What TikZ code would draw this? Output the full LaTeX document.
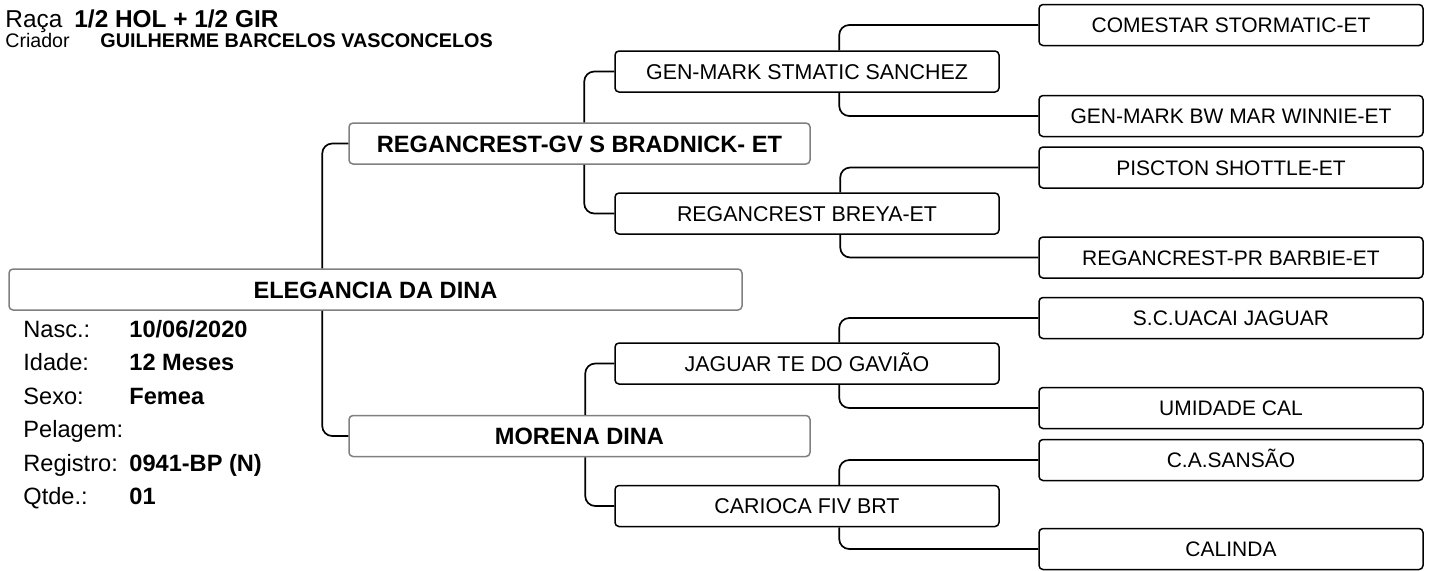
\documentclass[tikz,border=0pt]{standalone}
\usepackage{fontspec}
\setmainfont{Liberation Sans}
\usetikzlibrary{calc}
\tikzstyle{link}=[line width=0.85pt,rounded corners=5pt]
\tikzstyle{parentbox}=[draw=gray,line width=0.75pt,rounded corners=2pt,fill=white,inner sep=0pt,minimum height=20.5pt,text height=8.5pt,text depth=0pt,font=\fontsize{11.8}{14}\selectfont\bfseries]
\tikzstyle{animal}=[draw=black,line width=0.75pt,rounded corners=2pt,fill=white,inner sep=0pt,minimum width=192pt,minimum height=20.5pt,text height=7.5pt,text depth=0pt,font=\fontsize{10.5}{12}\selectfont]
\tikzstyle{grandanimal}=[animal,font=\fontsize{10.7}{12}\selectfont]
\tikzstyle{infotext}=[anchor=base west,inner sep=0pt,font=\fontsize{11.8}{14}\selectfont]
\tikzstyle{infoval}=[infotext,font=\fontsize{11.8}{14}\selectfont\bfseries]
\newcommand{\animalnode}[4][animal]{% Syntax: [style] {name} {x,y} {label}
	\node[#1] (#2) at (#3) {#4};
}
\newcommand{\parentline}[4]{% Syntax: {child} {parent} {north or south} {offset from parent's west side}
	\draw[link] ($(#2.#3 west)+(#4,0)$) |- (#1.west);
}
\begin{document}
\begin{tikzpicture}[x=0.5pt,y=-0.5pt]
  \useasboundingbox (0,0) rectangle (1431,570);
  % header
  \node[infotext,font=\fontsize{12.2}{14}\selectfont] (raca) at (5,27) {Raça};
  \node[infoval,font=\fontsize{12.2}{14}\selectfont\bfseries] (racaval) at (74,27) {1/2 HOL + 1/2 GIR};
  \node[infotext,font=\fontsize{9.8}{12}\selectfont] (criador) at (5,47) {Criador};
  \node[infoval,font=\fontsize{9.9}{12}\selectfont\bfseries] (criadorval) at (100,47) {GUILHERME BARCELOS VASCONCELOS};
  % animal and parents
  \animalnode[parentbox,minimum width=366.5pt]{dina}{375.5,289.5}{ELEGANCIA DA DINA}
  \animalnode[parentbox,minimum width=230.5pt]{sire}{579.5,143.5}{REGANCREST-GV S BRADNICK- ET}
  \animalnode[parentbox,minimum width=230.5pt]{dam}{579.5,436}{MORENA DINA}
  % grandparents
  \animalnode[grandanimal]{ss}{807,71.5}{GEN-MARK STMATIC SANCHEZ}
  \animalnode[grandanimal]{sd}{807,213.5}{REGANCREST BREYA-ET}
  \animalnode[grandanimal]{ds}{807,363.5}{JAGUAR TE DO GAVIÃO}
  \animalnode[grandanimal]{dd}{807,506}{CARIOCA FIV BRT}
  % great-grandparents
  \animalnode{sss}{1231,25}{COMESTAR STORMATIC-ET}
  \animalnode{ssd}{1231,116}{GEN-MARK BW MAR WINNIE-ET}
  \animalnode{sds}{1231,167.5}{PISCTON SHOTTLE-ET}
  \animalnode{sdd}{1231,257.5}{REGANCREST-PR BARBIE-ET}
  \animalnode{dss}{1231,318}{S.C.UACAI JAGUAR}
  \animalnode{dsd}{1231,408}{UMIDADE CAL}
  \animalnode{dds}{1231,460}{C.A.SANSÃO}
  \animalnode{ddd}{1231,549}{CALINDA}
  % connectors
  \parentline{sire}{dina}{north}{314}
  \parentline{dam}{dina}{south}{314}
  \parentline{ss}{sire}{north}{236}
  \parentline{sd}{sire}{south}{236}
  \parentline{ds}{dam}{north}{237}
  \parentline{dd}{dam}{south}{237}
  \parentline{sss}{ss}{north}{225}
  \parentline{ssd}{ss}{south}{225}
  \parentline{sds}{sd}{north}{226}
  \parentline{sdd}{sd}{south}{226}
  \parentline{dss}{ds}{north}{225}
  \parentline{dsd}{ds}{south}{225}
  \parentline{dds}{dd}{north}{225}
  \parentline{ddd}{dd}{south}{225}
  % info
  \node[infotext] (nasc) at (23,337) {Nasc.:};
  \node[infoval] (nascval) at (129,337) {10/06/2020};
  \node[infotext] (idade) at (23,370) {Idade:};
  \node[infoval] (idadeval) at (129,370) {12 Meses};
  \node[infotext] (sexo) at (23,404) {Sexo:};
  \node[infoval] (sexoval) at (129,404) {Femea};
  \node[infotext] (pelagem) at (23,437) {Pelagem:};
  \node[infotext] (registro) at (23,471) {Registro:};
  \node[infoval] (registroval) at (129,471) {0941-BP (N)};
  \node[infotext] (qtde) at (23,504) {Qtde.:};
  \node[infoval] (qtdeval) at (129,504) {01};
\end{tikzpicture}
\end{document}
